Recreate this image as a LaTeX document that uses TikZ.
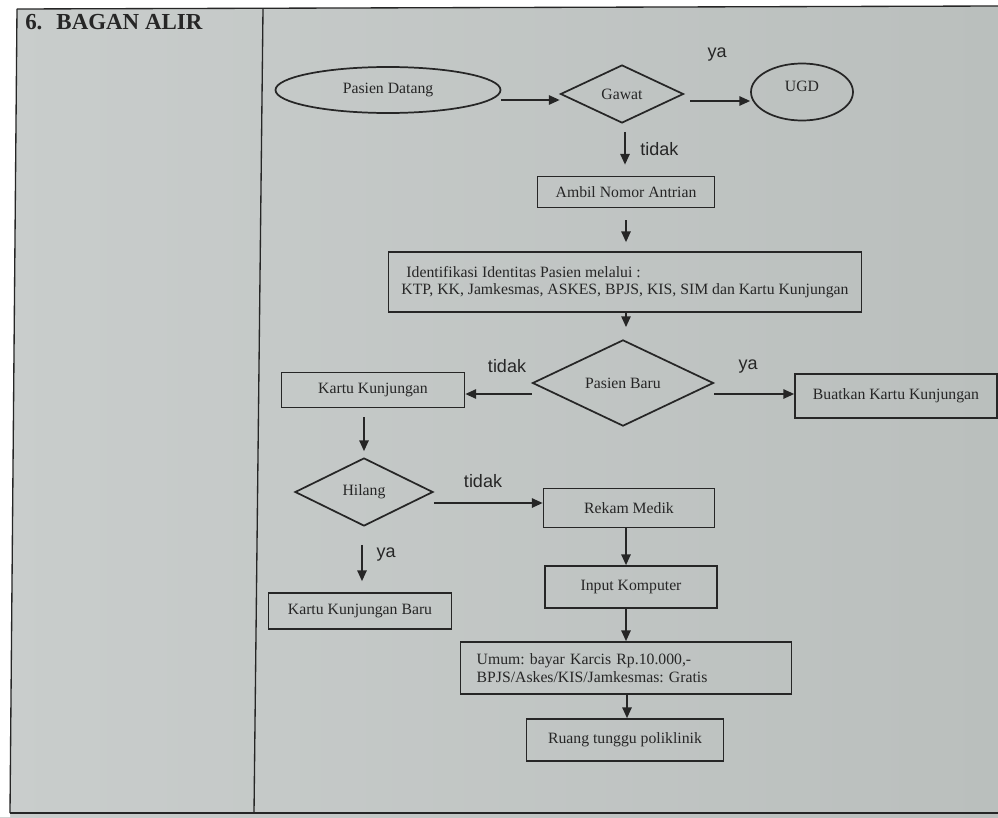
\documentclass[tikz,border=0pt]{standalone}
\usepackage{fontspec}
\setmainfont{Liberation Serif}
\newfontfamily\labfont{Liberation Sans}
\usetikzlibrary{shapes.geometric,arrows.meta}
\definecolor{paper}{RGB}{201,205,204}
\definecolor{paperdark}{RGB}{186,191,189}
\definecolor{ink}{RGB}{38,38,38}
\frenchspacing
\tikzset{
  boxnode/.style={draw=ink,line width=1.3pt,rectangle,inner sep=0pt,text=ink,
    font=\fontsize{11.8}{13}\selectfont},
  dianode/.style={draw=ink,line width=1.3pt,diamond,inner sep=0pt,text=ink,
    font=\fontsize{11.8}{13}\selectfont},
  ellnode/.style={draw=ink,line width=1.3pt,ellipse,inner sep=0pt,text=ink,
    font=\fontsize{11.8}{13}\selectfont},
  arr/.style={draw=ink,line width=1.1pt,-{Triangle[length=8pt,width=7pt]}},
  lab/.style={text=ink,font=\labfont\fontsize{13.5}{15}\selectfont,inner sep=0pt},
  frameline/.style={draw=ink,line width=1pt}
}
\begin{document}
\begin{tikzpicture}[x=0.75pt,y=-0.75pt]
\useasboundingbox (0,0) rectangle (998,817);
% paper
\shade[left color=paper,right color=paperdark] (0,0) rectangle (998,817);
\fill[white] (0,0) -- (998,0) -- (998,6) -- (17,9) -- (10,813) -- (10,817) -- (0,817) -- cycle;
% frame
\draw[frameline] (17,9) -- (998,6);
\draw[frameline] (17,9) -- (10,813);
\draw[frameline] (10,813) -- (998,813);
\draw[frameline] (263,9) -- (254,813);
% title
\node[anchor=base west,inner sep=0pt,text=ink,font=\bfseries\fontsize{17.2}{19}\selectfont] (title) at (25,30) {6.\hspace{10.5pt}BAGAN ALIR};

% nodes
\node[ellnode,minimum width=168.75pt,minimum height=34.5pt] (pd) at (388,90) {Pasien Datang};
\node[dianode,minimum width=92.25pt,minimum height=43.5pt] (gw) at (622,94) {Gawat};
\node[ellnode,minimum width=76.5pt,minimum height=42.75pt,text depth=8pt] (ugd) at (802,92) {UGD};
\node[boxnode,minimum width=132.75pt,minimum height=23.25pt] (amb) at (626,192) {Ambil Nomor Antrian};
\node[boxnode,minimum width=354.75pt,minimum height=45pt,align=left] (id) at (625,282)
  {\hspace*{3.75pt}Identifikasi Identitas Pasien melalui :\\[-0.5pt]KTP, KK, Jamkesmas, ASKES, BPJS, KIS, SIM dan Kartu Kunjungan};
\node[dianode,minimum width=135.75pt,minimum height=51pt] (pb) at (623,383) {Pasien Baru};
\node[boxnode,minimum width=137.25pt,minimum height=26.25pt] (kk) at (373,390) {Kartu Kunjungan};
\node[boxnode,minimum width=151.5pt,minimum height=33pt] (bu) at (896,396) {Buatkan Kartu Kunjungan};
\node[dianode,minimum width=103.5pt,minimum height=51pt] (hil) at (364,492) {Hilang};
\node[boxnode,minimum width=128.25pt,minimum height=29.25pt] (rm) at (629,508) {Rekam Medik};
\node[boxnode,minimum width=137.25pt,minimum height=27pt] (kkb) at (360,611) {Kartu Kunjungan Baru};
\node[boxnode,minimum width=129pt,minimum height=31.5pt] (inp) at (631,587) {Input Komputer};
\node[boxnode,minimum width=248.25pt,minimum height=39pt,text width=224pt,align=left,
  font=\fontsize{11.8}{13.5}\selectfont] (um) at (626,668)
  {Umum: bayar Karcis Rp.10.000,-\\BPJS/Askes/KIS/Jamkesmas: Gratis};
\node[boxnode,minimum width=147.75pt,minimum height=31.5pt] (ru) at (625,740) {Ruang tunggu poliklinik};

% connectors
\draw[arr] (pd.east |- 0,100) -- (gw.west |- 0,100);
\draw[arr,shorten <=4.5pt] (gw.east |- 0,101) -- (ugd.west |- 0,101);
\draw[arr,shorten <=6pt,shorten >=8.25pt] (gw.south -| 625,0) -- (amb.north -| 625,0);
\draw[arr,shorten <=9pt,shorten >=6.75pt] (amb.south -| 626,0) -- (id.north -| 626,0);
\draw[arr,shorten >=9pt] (id.south -| 626,0) -- (pb.north -| 626,0);
\draw[arr] (pb.west |- 0,394) -- (kk.east |- 0,394);
\draw[arr] (pb.east |- 0,394) -- (bu.west |- 0,394);
\draw[arr,shorten <=6.75pt,shorten >=4.5pt] (kk.south -| 364,0) -- (hil.north -| 364,0);
\draw[arr] (hil.east |- 0,503) -- (rm.west |- 0,503);
\draw[arr,shorten <=13.5pt,shorten >=8.25pt] (hil.south -| 362,0) -- (kkb.north -| 362,0);
\draw[arr] (rm.south -| 626,0) -- (inp.north -| 626,0);
\draw[arr] (inp.south -| 626,0) -- (um.north -| 626,0);
\draw[arr] (um.south -| 627,0) -- (ru.north -| 627,0);

% labels
\node[lab] (l1) at (717,55) {ya};
\node[lab,anchor=west] (l2) at (640,149) {tidak};
\node[lab] (l3) at (507,366) {tidak};
\node[lab] (l4) at (748,367) {ya};
\node[lab] (l5) at (483,481) {tidak};
\node[lab] (l6) at (386,555) {ya};
\end{tikzpicture}
\end{document}
